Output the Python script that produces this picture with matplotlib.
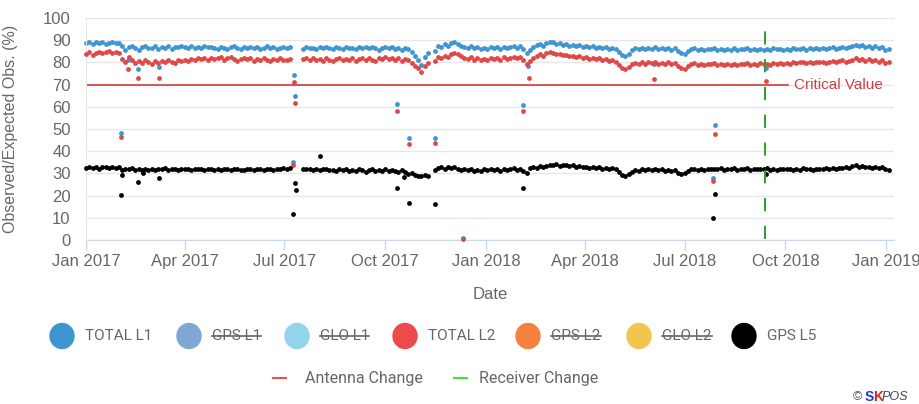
import numpy as np
import matplotlib
matplotlib.use("Agg")
import matplotlib.pyplot as plt
from matplotlib.patches import Ellipse
from matplotlib.lines import Line2D

plt.rcParams['font.family'] = ['Liberation Sans', 'DejaVu Sans']
plt.rcParams['lines.scale_dashes'] = False

nan = np.nan
# ---- data: regular readings every 3 days starting 2017-01-01 ----
start_date = "2017-01-01"
step_days = 3

total_l1 = [
    88.6, 89.2, 88.4, 89.0, 88.7, 89.3, 88.5, 88.9, 89.1, 88.6, 88.8,
    87.5, 85.8, 86.9, 87.6, 86.4, 85.7, 86.8, 87.2, 86.5,
    86.3, 87.4, 86.0, 87.1, 86.6, 87.5, 86.2, 87.0, 86.8, 87.3,
    86.9, 86.4, 87.4, 86.7, 87.1, 86.3, 87.5, 86.8, 87.0, 86.5,
    86.2, 87.1, 86.6, 85.9, 86.8, 87.2, 86.4, 86.0, 86.9, 86.5, 87.0,
    86.3, 86.9, 86.1, 86.7, 87.2, 86.4, 86.8, 86.0, 86.6, 87.0,
    86.5, 86.8, nan, nan, nan, 86.2, 86.9, 86.4, 86.7, 86.1,
    86.8, 86.3, 87.0, 86.5, 86.1, 86.9, 86.6, 86.2, 87.1, 86.4,
    86.7, 86.0, 86.8, 86.5, 87.1, 86.3, 86.9, 86.6, 85.8, 86.7,
    87.0, 86.5, 86.9, 86.2, 86.7, 85.8, 86.4, 85.9, 84.6, 83.1, 81.2,
    79.0, 82.4, 84.1, nan, 85.2, 87.2, 86.8, 88.1, 87.6, 88.9,
    89.1, 88.4, 87.6, 87.0, 86.5, 87.2, 86.3, 86.9, 86.0, 86.6,
    86.2, 87.0, 86.5, 86.8, 86.1, 87.1, 86.4, 86.9, 87.3, 86.6,
    87.5, 86.0, 84.2, 85.6, 87.0, 87.8, 88.3, 87.6, 88.9, 89.4,
    89.0, 88.5, 88.8, 87.9, 88.3, 87.6, 88.0, 87.3, 87.8, 87.1,
    87.4, 86.9, 87.3, 86.6, 87.0, 86.4, 86.8, 86.2, 86.5, 85.9,
    84.8, 83.5, 82.8, 84.0, 85.6, 86.3, 85.9, 86.5, 86.0, 86.7,
    86.2, 86.8, 85.9, 86.5, 86.1, 86.7, 85.8, 86.3, 85.0, 84.4,
    83.6, 85.2, 86.0, 86.4, 85.8, 86.2, 85.6, 86.1, 85.9, 86.3,
    85.7, 86.1, 85.5, 86.0, 85.8, 86.4, 85.6, 86.2, 85.9, 86.3, 85.7,
    86.0, 85.6, 86.2, 85.8, 86.1, 85.5, 86.3, 85.9, 86.0, 85.7,
    86.2, 85.8, 86.4, 85.9, 86.1, 86.5, 85.7, 86.3, 86.0, 86.6,
    86.1, 86.5, 85.9, 86.4, 86.8, 86.2, 86.6, 87.0, 86.3, 86.9,
    87.4, 88.0, 87.2, 87.7, 86.9, 87.5, 86.7, 87.3, 86.5, 87.1, 85.8,
    86.0,
]

total_l2 = [
    83.8, 84.5, 83.5, 84.2, 84.9, 84.1, 84.6, 85.0, 84.3, 84.8, 84.4,
    81.5, 80.2, 82.6, 81.0, 79.6, 80.5, 79.8, 80.9, 80.1,
    79.5, 80.6, 79.9, 80.8, 80.2, 81.0, 80.4, 79.8, 80.9, 80.5,
    81.2, 80.7, 81.6, 81.0, 82.1, 81.4, 81.9, 81.3, 82.0, 81.5,
    81.8, 82.3, 81.2, 81.9, 82.5, 81.6, 80.8, 81.7, 82.2, 81.4, 81.9,
    80.6, 81.5, 80.9, 81.8, 81.2, 80.5, 81.6, 81.0, 81.9, 81.3,
    81.1, 81.7, nan, nan, nan, 81.4, 82.0, 81.2, 81.8, 80.9,
    81.6, 80.8, 81.9, 81.3, 80.6, 81.5, 82.1, 81.0, 81.7, 80.9,
    81.8, 80.7, 81.4, 82.2, 81.1, 81.9, 81.3, 80.8, 82.0, 81.5,
    82.3, 81.6, 82.0, 81.2, 81.8, 80.5, 81.4, 80.9, 79.8, 78.6, 77.4,
    75.5, 78.2, 79.8, nan, 80.6, 82.4, 81.9, 83.1, 82.6, 83.8,
    84.3, 83.6, 82.8, 82.1, 81.5, 82.3, 81.2, 81.9, 81.0, 81.6,
    81.3, 82.0, 81.5, 82.2, 81.1, 82.4, 81.6, 82.0, 82.5, 81.8,
    82.6, 81.0, 79.5, 80.8, 82.2, 83.0, 83.6, 82.9, 84.1, 84.8,
    84.3, 83.7, 84.0, 83.2, 83.5, 82.8, 83.1, 82.4, 82.8, 82.0,
    82.3, 81.7, 82.0, 81.4, 81.8, 81.1, 81.5, 80.7, 81.0, 80.2,
    79.0, 77.6, 76.9, 77.8, 79.2, 79.8, 79.3, 80.0, 79.5, 80.1,
    79.6, 80.2, 79.3, 79.9, 79.5, 80.1, 79.2, 79.8, 78.4, 77.6,
    76.9, 78.5, 79.2, 79.7, 79.0, 79.5, 78.8, 79.4, 79.1, 79.6,
    78.9, 79.4, 78.7, 79.2, 79.0, 79.5, 78.8, 79.3, 79.1, 79.6, 78.9,
    79.4, 79.0, 79.6, 79.2, 79.5, 78.9, 79.7, 79.3, 79.8, 79.4,
    79.9, 79.5, 80.1, 79.7, 80.0, 80.3, 79.6, 80.2, 79.9, 80.4,
    80.0, 80.4, 79.8, 80.3, 80.6, 80.1, 80.5, 80.9, 80.2, 80.7,
    81.3, 81.9, 81.0, 81.6, 80.8, 81.4, 80.6, 81.2, 80.4, 81.0, 79.8,
    80.0,
]

gps_l5 = [
    32.6, 33.1, 32.4, 32.9, 32.2, 32.8, 33.0, 32.5, 32.7, 32.3, 32.8,
    31.5, 32.2, 31.8, 32.4, 31.6, 32.1, 31.4, 32.0, 31.7,
    32.2, 31.6, 32.0, 31.8, 32.3, 31.5, 31.9, 32.1, 31.7, 32.2,
    31.8, 32.1, 31.6, 32.0, 31.9, 32.2, 31.5, 31.8, 32.1, 31.7,
    32.0, 31.6, 31.9, 32.1, 31.5, 31.8, 32.2, 31.7, 31.4, 31.9, 32.0,
    31.6, 31.9, 32.2, 31.5, 31.8, 32.0, 31.7, 32.1, 31.8, 32.3,
    32.0, 32.4, nan, nan, nan, 32.2, 31.8, 32.1, 31.6, 31.9,
    31.5, 31.8, 32.0, 31.4, 31.7, 31.2, 31.9, 31.5, 31.8, 31.3,
    31.6, 31.1, 31.8, 31.4, 30.8, 31.5, 32.1, 31.3, 31.7, 31.0,
    31.8, 31.2, 31.6, 31.0, 30.5, 31.4, 30.8, 29.9, 30.3, 29.4, 29.0,
    28.7, 29.5, 28.9, nan, 31.5, 32.6, 32.9, 32.2, 33.1, 32.5,
    32.8, 32.1, 31.6, 32.0, 31.4, 31.8, 31.2, 31.7, 31.3, 31.9,
    31.5, 32.0, 31.4, 31.8, 31.2, 32.1, 31.6, 31.9, 32.4, 31.7,
    32.2, 31.0, 30.4, 32.6, 33.0, 32.4, 33.3, 32.8, 33.5, 33.9,
    33.6, 34.1, 33.4, 33.8, 34.0, 33.3, 33.6, 33.1, 33.4, 32.9,
    33.0, 32.6, 32.9, 32.4, 32.7, 32.2, 32.5, 32.0, 32.3, 31.8,
    30.6, 29.4, 28.8, 29.6, 30.8, 31.6, 31.2, 31.9, 31.5, 32.0,
    31.6, 32.1, 31.4, 31.8, 31.2, 31.7, 31.0, 31.5, 30.4, 29.8,
    30.3, 31.2, 31.8, 32.0, 31.5, 31.9, 31.6, 32.1, 31.8, 32.2,
    31.9, 32.3, 31.7, 32.1, 31.8, 32.4, 31.6, 32.0, 31.9, 32.3, 31.7,
    32.1, 31.8, 32.2, 31.9, 32.4, 31.7, 32.0, 31.6, 32.2, 31.9,
    31.8, 32.2, 31.5, 32.0, 31.7, 32.3, 31.9, 32.1, 31.6, 32.0,
    32.2, 31.8, 32.4, 32.0, 32.5, 32.1, 32.6, 32.3, 32.8, 32.4,
    33.2, 33.6, 33.0, 33.4, 32.8, 33.1, 32.6, 32.9, 32.4, 32.7, 32.2,
    31.6,
]

# ---- data: isolated outlying days ----
l1_out_dates = ["2017-02-02", "2017-02-08", "2017-02-17", "2017-03-09", "2017-07-09",
                "2017-07-10", "2017-07-11", "2017-10-12", "2017-10-23", "2017-11-15",
                "2017-12-11", "2018-02-04", "2018-02-08", "2018-06-03", "2018-07-27",
                "2018-07-29", "2018-09-13"]
l1_out_vals = [48.0, 81.0, 77.0, 78.0, 35.2, 74.5, 65.0, 61.2, 46.0, 46.0,
               0.8, 61.0, 78.5, 79.5, 27.8, 51.8, 77.5]

l2_out_dates = ["2017-02-02", "2017-02-08", "2017-02-17", "2017-03-09", "2017-07-09",
                "2017-07-10", "2017-07-11", "2017-10-12", "2017-10-23", "2017-11-15",
                "2017-12-11", "2018-02-04", "2018-02-09", "2018-06-03", "2018-07-27",
                "2018-07-29", "2018-09-13"]
l2_out_vals = [46.3, 77.2, 72.8, 73.0, 33.8, 71.2, 61.5, 58.3, 43.2, 43.5,
               0.5, 58.3, 73.0, 72.5, 26.6, 47.8, 71.5]

l5_out_dates = ["2017-02-02", "2017-02-03", "2017-02-17", "2017-02-22", "2017-03-09",
                "2017-07-09", "2017-07-11", "2017-07-12", "2017-08-02", "2017-10-12",
                "2017-10-18", "2017-10-23", "2017-11-15", "2018-02-04", "2018-07-27",
                "2018-07-29", "2018-09-13"]
l5_out_vals = [20.3, 29.5, 26.0, 30.0, 28.0, 11.8, 25.8, 22.5, 37.8, 23.2,
               28.5, 16.8, 16.4, 23.6, 9.7, 20.8, 29.8]

critical_value = 70
critical_end = "2018-10-03"
receiver_change = "2018-09-12"

yticks = list(range(0, 101, 10))
xtick_dates = ["2017-01-01", "2017-04-01", "2017-07-01", "2017-10-01", "2018-01-01",
               "2018-04-01", "2018-07-01", "2018-10-01", "2019-01-01"]
xtick_labels = ["Jan 2017", "Apr 2017", "Jul 2017", "Oct 2017", "Jan 2018",
                "Apr 2018", "Jul 2018", "Oct 2018", "Jan 2019"]

legend_names = ["TOTAL L1", "GPS L1", "GLO L1", "TOTAL L2", "GPS L2", "GLO L2", "GPS L5"]
legend_colors = ["#3f95d0", "#7ea7d4", "#92d4ea", "#ec4b4b", "#f38140", "#f2c54f", "#000000"]
legend_hidden = [False, True, True, False, True, True, False]

C_L1 = "#3f95d0"
C_L2 = "#e04848"
C_L5 = "#000000"
TXT = "#666666"

# ---- figure ----
W, H = 920, 404
fig = plt.figure(figsize=(W / 100, H / 100), dpi=100)
L, R, T, B = 86, 894, 18, 240
ax = fig.add_axes([L / W, 1 - B / H, (R - L) / W, (B - T) / H])

def to_dates(lst):
    return np.array(lst, dtype="datetime64[D]")

base = np.datetime64(start_date)
def reg_dates(n):
    return base + np.arange(n) * step_days

ax.set_xlim(np.datetime64("2017-01-01"), np.datetime64("2017-01-01") + 737)
ax.set_ylim(0, 100)

for v in yticks:
    ax.axhline(v, color="#e6e6e6", lw=1, zorder=0)

ms = 12
ax.scatter(reg_dates(len(total_l1)), total_l1, s=ms, color=C_L1, lw=0, zorder=2, clip_on=False)
ax.scatter(to_dates(l1_out_dates), l1_out_vals, s=ms, color=C_L1, lw=0, zorder=2, clip_on=False)
ax.scatter(reg_dates(len(total_l2)), total_l2, s=ms, color=C_L2, lw=0, zorder=3, clip_on=False)
ax.scatter(to_dates(l2_out_dates), l2_out_vals, s=ms, color=C_L2, lw=0, zorder=3, clip_on=False)
ax.scatter(reg_dates(len(gps_l5)), gps_l5, s=ms, color=C_L5, lw=0, zorder=4, clip_on=False)
ax.scatter(to_dates(l5_out_dates), l5_out_vals, s=ms, color=C_L5, lw=0, zorder=4, clip_on=False)

ax.plot([np.datetime64("2017-01-01"), np.datetime64(critical_end)],
        [critical_value, critical_value], color="#d04a4a", lw=1.3, zorder=1.5)
ax.text(np.datetime64(critical_end) + 6, critical_value, "Critical Value",
        color="#cf3f45", fontsize=11, va="center", ha="left")

ax.plot([np.datetime64(receiver_change)] * 2, [0.5, 99], color="#2f9e2f", lw=1.4,
        dashes=(9.5, 10.5), zorder=5)

for s in ["top", "right"]:
    ax.spines[s].set_visible(False)
ax.spines["left"].set_color("#e6e6e6")
ax.spines["bottom"].set_color("#ccd6eb")
ax.spines["bottom"].set_zorder(1)
ax.set_yticks(yticks)
ax.set_yticklabels([str(v) for v in yticks])
ax.tick_params(axis="y", length=0, pad=11, labelsize=12, labelcolor=TXT)
ax.set_xticks(to_dates(xtick_dates))
ax.set_xticklabels(xtick_labels)
ax.tick_params(axis="x", length=7, width=1, color="#ccd6eb", pad=3, labelsize=12, labelcolor=TXT)
ax.set_ylabel("Observed/Expected Obs. (%)", fontsize=11.5, color=TXT)
ax.yaxis.set_label_coords((18 - L) / (R - L), 0.5)
ax.set_xlabel("Date", fontsize=12, color=TXT)
ax.xaxis.set_label_coords(0.5, -(287 - B) / (B - T))
ax.set_facecolor("none")

# legend row 1
circle_x = [62, 189, 297, 405, 528, 639, 744]
ly = 336
texts = []
for cx, name, col, hid in zip(circle_x, legend_names, legend_colors, legend_hidden):
    fig.add_artist(Ellipse((cx / W, 1 - ly / H), 24 / W, 25 / H, color=col,
                           transform=fig.transFigure))
    t = fig.text((cx + 23) / W, 1 - ly / H, name, fontsize=11, color=TXT,
                 va="center", ha="left", family="Roboto")
    texts.append((t, hid))

# legend row 2
ly2 = 378
fig.add_artist(Line2D([273 / W, 286 / W], [1 - ly2 / H] * 2, color="#f05050", lw=1.5,
                      transform=fig.transFigure))
fig.text(305 / W, 1 - ly2 / H, "Antenna Change", fontsize=11.5, color=TXT, va="center",
         ha="left", family="Roboto")
fig.add_artist(Line2D([454 / W, 467 / W], [1 - ly2 / H] * 2, color="#40e040", lw=1.5,
                      transform=fig.transFigure))
fig.text(479 / W, 1 - ly2 / H, "Receiver Change", fontsize=11.5, color=TXT, va="center",
         ha="left", family="Roboto")

# credits
cy = 1 - 397 / H
fig.text(853 / W, cy, "©", fontsize=9, color="#555555", va="center", ha="left")
fig.text(865 / W, cy, "S", fontsize=10, color="#1f3fd0", va="center", ha="left",
         weight="bold")
fig.text(873 / W, cy, "K", fontsize=10, color="#e02020", va="center", ha="left",
         weight="bold")
fig.text(882 / W, cy, "POS", fontsize=9, color="#444444", va="center", ha="left",
         style="italic")

fig.canvas.draw()
r = fig.canvas.get_renderer()
for t, hid in texts:
    if hid:
        bb = t.get_window_extent(r)
        ymid = (bb.y0 + bb.y1) / 2 / fig.bbox.height
        fig.add_artist(Line2D([bb.x0 / fig.bbox.width, bb.x1 / fig.bbox.width],
                              [ymid, ymid], color=TXT, lw=1.2,
                              transform=fig.transFigure))

fig.savefig("out.png", dpi=100)
